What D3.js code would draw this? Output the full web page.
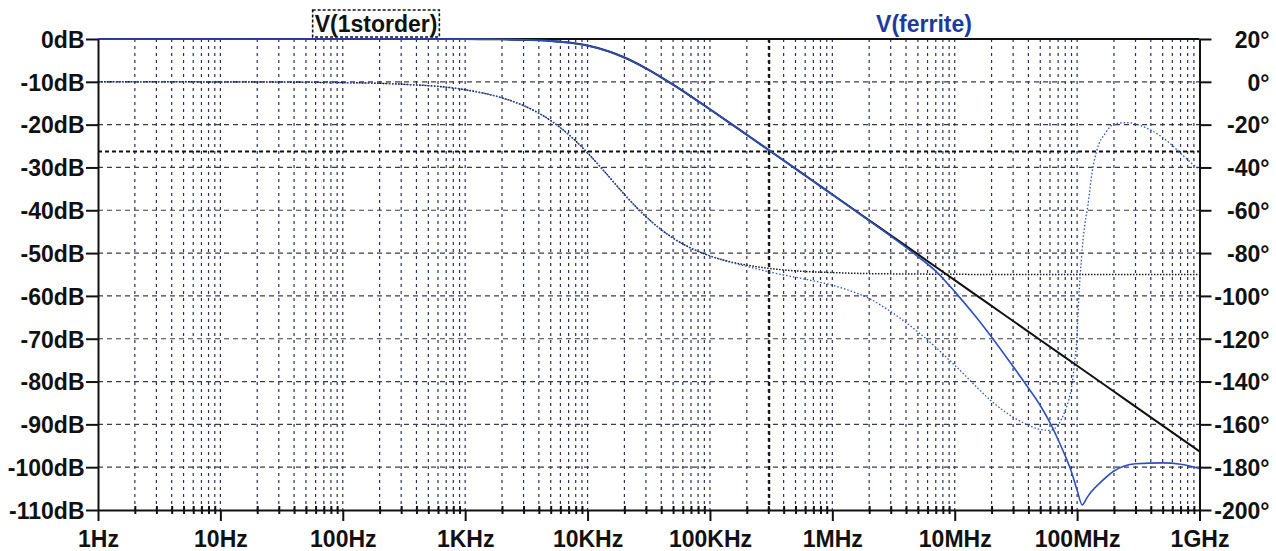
<!DOCTYPE html>
<html>
<head>
<meta charset="utf-8">
<script src="https://cdn.jsdelivr.net/npm/d3@7"></script>
<style>
  html, body { margin: 0; padding: 0; background: #fff; }
  svg { display: block; }
  text { font-family: "Liberation Sans", Arial, sans-serif; font-weight: bold; }
</style>
</head>
<body>
<svg id="chart" width="1276" height="551"></svg>
<script>
// ---- frequency axis ----
const freqTicks = [1, 1e1, 1e2, 1e3, 1e4, 1e5, 1e6, 1e7, 1e8, 1e9];
const freqLabels = ["1Hz", "10Hz", "100Hz", "1KHz", "10KHz", "100KHz", "1MHz", "10MHz", "100MHz", "1GHz"];

// ---- left (magnitude) and right (phase) axes ----
const dbTicks = [0, -10, -20, -30, -40, -50, -60, -70, -80, -90, -100, -110];
const phaseTicks = [20, 0, -20, -40, -60, -80, -100, -120, -140, -160, -180, -200];

// ---- V(1storder): magnitude (dB) and phase (deg) ----
const freq1st = [1, 10, 100, 300, 1e3, 2e3, 3e3, 5e3, 7e3, 1e4, 1.5e4, 2e4, 3e4, 5e4, 7e4, 1e5, 1.5e5, 2e5, 3e5, 5e5, 7e5,
                 1e6, 2e6, 3e6, 5e6, 1e7, 2e7, 3e7, 5e7, 1e8, 2e8, 3e8, 5e8, 1e9];
const mag1st = [0, 0, 0, 0, -0.02, -0.07, -0.16, -0.44, -0.83, -1.54, -2.93, -4.33, -6.85, -10.67, -13.41, -16.41, -19.87, -22.35, -25.86, -30.29, -33.21,
                -36.31, -42.33, -45.85, -50.29, -56.31, -62.33, -65.85, -70.29, -76.31, -82.33, -85.85, -90.29, -96.31];
const phase1st = [0, -0.04, -0.37, -1.1, -3.7, -7.5, -11.1, -18.1, -24.6, -33.2, -44.4, -52.6, -63.0, -73.0, -77.7, -81.3, -84.2, -85.6, -87.1, -88.3, -88.8,
                  -89.1, -89.6, -89.7, -89.8, -89.9, -90, -90, -90, -90, -90, -90, -90, -90];

// ---- V(ferrite): magnitude (dB) ----
const freqFerMag = [1, 10, 100, 300, 1e3, 2e3, 3e3, 5e3, 7e3, 1e4, 1.5e4, 2e4, 3e4, 5e4, 7e4, 1e5, 1.5e5, 2e5, 3e5, 5e5, 7e5,
                    1e6, 2e6, 3e6, 5e6, 7e6, 1e7, 1.5e7, 2e7, 3e7, 4e7, 5e7, 6e7, 7e7, 8e7, 9e7, 1e8, 1.1e8, 1.2e8, 1.3e8, 1.6e8, 2e8, 3e8, 5e8, 7e8, 1e9];
const magFerrite = [0, 0, 0, 0, -0.02, -0.07, -0.16, -0.44, -0.83, -1.54, -2.93, -4.33, -6.85, -10.67, -13.41, -16.41, -19.87, -22.35, -25.86, -30.29, -33.21,
                    -36.35, -42.45, -46.05, -50.8, -54.2, -59.0, -65.0, -69.6, -76.5, -81.5, -85.6, -89.6, -93.6, -97.4, -101.1, -105.4, -108.8, -107.2, -105.8, -103.2, -100.9, -99.2, -99.0, -99.3, -100.3];

// ---- V(ferrite): phase (deg) ----
const freqFerPh = [1, 10, 100, 300, 1e3, 2e3, 3e3, 5e3, 7e3, 1e4, 1.5e4, 2e4, 3e4, 5e4, 7e4, 1e5, 1.5e5, 2e5, 3e5, 6.5e5,
                   1e6, 1.4e6, 2e6, 2.6e6, 3.5e6, 5e6, 7e6, 9e6, 1.2e7, 1.5e7, 2e7, 2.5e7, 3e7, 4e7, 5e7, 6e7, 7e7, 8e7, 8.5e7, 9e7, 9.5e7,
                   1e8, 1.03e8, 1.08e8, 1.16e8, 1.22e8, 1.32e8, 1.45e8, 1.7e8, 2.05e8, 2.55e8, 3.7e8, 5.7e8, 7e8, 1e9];
const phaseFerrite = [0, -0.04, -0.37, -1.1, -3.7, -7.5, -11.1, -18.1, -24.6, -33.2, -44.4, -52.6, -63.0, -73.0, -77.7, -81.3, -84.4, -86.2, -88.7, -92.6,
                      -95.0, -97.6, -101.2, -105.0, -110.0, -116.8, -124.0, -129.9, -136.8, -142.4, -149.2, -153.6, -156.6, -160.4, -162.4, -162.8, -160.2, -153.5, -149.0, -143.0, -132.0,
                      -118.0, -102.0, -84.0, -66.0, -58.5, -43.0, -32.0, -24.0, -19.5, -19.1, -21.6, -28.6, -33.4, -41.2];

// ---- cursors ----
const cursorFreq = 3.05e5;
const cursorDb = -26.3;

// ---- layout ----
const plot = { left: 98, right: 1199.5, top: 39, bottom: 510 };
const svg = d3.select("#chart");

const x = d3.scaleLog().domain([1, 1e9]).range([plot.left, plot.right]);
const yDb = d3.scaleLinear().domain([0, -110]).range([plot.top, plot.bottom]);
const yPh = d3.scaleLinear().domain([20, -200]).range([plot.top, plot.bottom]);

// minor frequencies 2..9 x each decade, plus decade lines inside the plot
const gridFreqs = [];
for (let d = 0; d < 9; d++) {
  for (let m = 2; m <= 10; m++) gridFreqs.push(m * Math.pow(10, d));
}
const minorFreqs = gridFreqs.filter(f => !freqTicks.includes(f));

// ---- grid ----
const grid = svg.append("g");
grid.selectAll("line.vg").data(gridFreqs.filter(f => f < 1e9)).join("line")
  .attr("x1", d => x(d)).attr("x2", d => x(d))
  .attr("y1", plot.top).attr("y2", plot.bottom)
  .attr("stroke", "#2c2f5e").attr("stroke-width", 1.2)
  .attr("stroke-dasharray", "3,4");
grid.selectAll("line.hg").data(dbTicks.filter(v => v < 0 && v > -110)).join("line")
  .attr("x1", plot.left).attr("x2", plot.right)
  .attr("y1", d => yDb(d)).attr("y2", d => yDb(d))
  .attr("stroke", "#3c3d48").attr("stroke-width", 1.2)
  .attr("stroke-dasharray", "5,4");

// ---- cursors ----
svg.append("line")
  .attr("x1", x(cursorFreq)).attr("x2", x(cursorFreq))
  .attr("y1", plot.top).attr("y2", plot.bottom)
  .attr("stroke", "#111").attr("stroke-width", 2)
  .attr("stroke-dasharray", "4,3");
svg.append("line")
  .attr("x1", plot.left).attr("x2", plot.right)
  .attr("y1", yDb(cursorDb)).attr("y2", yDb(cursorDb))
  .attr("stroke", "#111").attr("stroke-width", 2)
  .attr("stroke-dasharray", "4,3");

// ---- traces ----
const magLine = (freqs) => d3.line()
  .x((d, i) => x(freqs[i])).y(d => yDb(d)).curve(d3.curveMonotoneX);
const phLine = (freqs) => d3.line()
  .x((d, i) => x(freqs[i])).y(d => yPh(d)).curve(d3.curveMonotoneX);

const blue = "#2f4fbf";

svg.append("path").datum(phase1st)
  .attr("d", phLine(freq1st))
  .attr("fill", "none").attr("stroke", "#1a1a1a").attr("stroke-width", 1.5)
  .attr("stroke-dasharray", "1.5,1.5");
svg.append("path").datum(phaseFerrite)
  .attr("d", phLine(freqFerPh))
  .attr("fill", "none").attr("stroke", blue).attr("stroke-width", 1.3)
  .attr("stroke-dasharray", "1.5,2");
svg.append("path").datum(mag1st)
  .attr("d", magLine(freq1st))
  .attr("fill", "none").attr("stroke", "#111").attr("stroke-width", 2);
svg.append("path").datum(magFerrite)
  .attr("d", magLine(freqFerMag))
  .attr("fill", "none").attr("stroke", blue).attr("stroke-width", 1.6);

// ---- frame ----
svg.append("line").attr("x1", plot.left).attr("x2", plot.right)
  .attr("y1", plot.top).attr("y2", plot.top).attr("stroke", "#111").attr("stroke-width", 2);
// blue trace lies along the top border at low frequency
svg.append("path").datum(magFerrite.slice(0, 9))
  .attr("d", magLine(freqFerMag.slice(0, 9)))
  .attr("fill", "none").attr("stroke", blue).attr("stroke-width", 1.6);

const fontSize = "23px";

// left axis (dB)
const axL = svg.append("g").attr("transform", `translate(${plot.left},0)`)
  .call(d3.axisLeft(yDb).tickValues(dbTicks).tickFormat(d => d + "dB").tickSize(12).tickSizeOuter(0).tickPadding(1.5));
// right axis (deg)
const axR = svg.append("g").attr("transform", `translate(${plot.right},0)`)
  .call(d3.axisRight(yPh).tickValues(phaseTicks).tickFormat(d => d + "\u00b0").tickSize(12).tickSizeOuter(0));
axR.selectAll("text").attr("x", 70).attr("text-anchor", "end");
// bottom axis: minor ticks crossing the axis, decade ticks below it
const axMinor = svg.append("g").attr("transform", `translate(0,${plot.bottom - 4})`)
  .call(d3.axisBottom(x).tickValues(minorFreqs).tickFormat("").tickSize(8).tickSizeOuter(0));
axMinor.select(".domain").remove();
const axB = svg.append("g").attr("transform", `translate(0,${plot.bottom})`)
  .call(d3.axisBottom(x).tickValues(freqTicks).tickFormat((d, i) => freqLabels[i]).tickSize(11).tickSizeOuter(0));
axB.selectAll("text").attr("y", 37).attr("dy", null);

[axL, axR, axMinor, axB].forEach(g => {
  g.selectAll("text").attr("fill", "#111").style("font-size", fontSize)
    .style("font-family", '"Liberation Sans", Arial, sans-serif').style("font-weight", "bold");
  g.selectAll("line").attr("stroke", "#111").attr("stroke-width", 2);
  g.selectAll(".domain").attr("stroke", "#111").attr("stroke-width", 2);
});
axL.selectAll("text").attr("dy", "0.36em");
axR.selectAll("text").attr("dy", "0.36em");

// ---- trace labels ----
const lbl1 = svg.append("text").attr("x", 376).attr("y", 32)
  .attr("text-anchor", "middle").attr("fill", "#111").style("font-size", fontSize)
  .text("V(1storder)");
const bb = lbl1.node().getBBox();
svg.append("rect")
  .attr("x", bb.x - 2).attr("y", 10).attr("width", bb.width + 4).attr("height", 27)
  .attr("fill", "none").attr("stroke", "#111").attr("stroke-width", 1.6)
  .attr("stroke-dasharray", "3,2");
svg.append("text").attr("x", 924).attr("y", 32)
  .attr("text-anchor", "middle").attr("fill", "#1e3a9e").style("font-size", fontSize)
  .text("V(ferrite)");
</script>
</body>
</html>
